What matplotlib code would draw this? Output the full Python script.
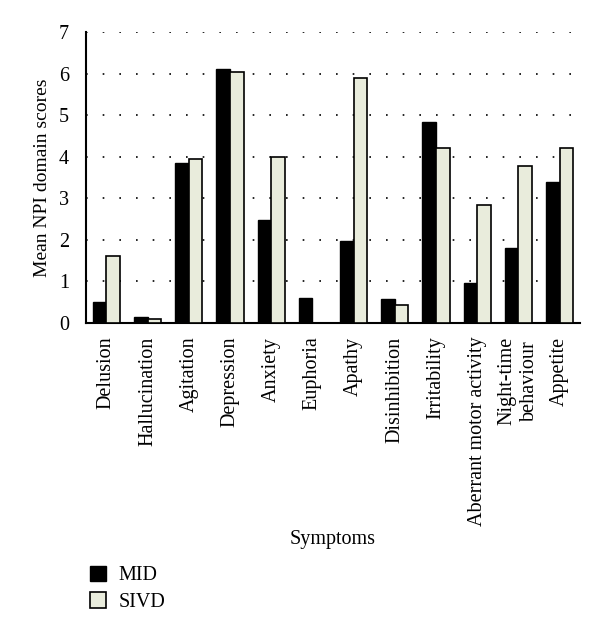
import numpy as np
import matplotlib.pyplot as plt

plt.rcParams['font.family'] = ['Liberation Serif', 'DejaVu Serif']

symptoms = ['Delusion', 'Hallucination', 'Agitation', 'Depression', 'Anxiety',
            'Euphoria', 'Apathy', 'Disinhibition', 'Irritability',
            'Aberrant motor activity', 'Night-time\nbehaviour', 'Appetite']
mid = [0.5, 0.13, 3.85, 6.12, 2.48, 0.6, 1.97, 0.57, 4.85, 0.97, 1.8, 3.4]
sivd = [1.61, 0.1, 3.95, 6.05, 4.0, 0.0, 5.9, 0.43, 4.22, 2.85, 3.77, 4.22]

fig = plt.figure(figsize=(6, 6.33), dpi=100)
ax = fig.add_axes([0.143, 0.49, 0.824, 0.459])

x = np.arange(len(symptoms))
w = 0.33
ax.bar(x - w / 2, mid, w, color='black', edgecolor='black', linewidth=1, label='MID', zorder=3)
ax.bar(x + w / 2, sivd, w, color='#e9ecdc', edgecolor='black', linewidth=1.2, label='SIVD', zorder=3)

ax.set_xlim(-0.5, 11.5)
ax.set_ylim(0, 7)
ax.set_yticks(range(8))
ax.set_xticks(x)
ax.set_xticklabels(symptoms, rotation=90, fontsize=14.5, linespacing=1.25)
ax.tick_params(axis='both', length=0, labelsize=14.5)
ax.tick_params(axis='x', pad=10)
ax.tick_params(axis='y', pad=12)
ax.yaxis.grid(True, linestyle=(0, (1, 9)), color='black', linewidth=1.2)
ax.set_axisbelow(True)
for s in ['top', 'right']:
    ax.spines[s].set_visible(False)
ax.spines['left'].set_linewidth(1.5)
ax.spines['bottom'].set_linewidth(1.5)
ax.set_ylabel('Mean NPI domain scores', fontsize=14, labelpad=6)

fig.text(0.555, 0.147, 'Symptoms', ha='center', va='center', fontsize=14.5)
fig.legend(loc='upper left', bbox_to_anchor=(0.12, 0.135), frameon=False,
           fontsize=14.5, handlelength=0.8, handleheight=0.8, labelspacing=0.35,
           handletextpad=0.6)

fig.savefig('out.png', dpi=100)
